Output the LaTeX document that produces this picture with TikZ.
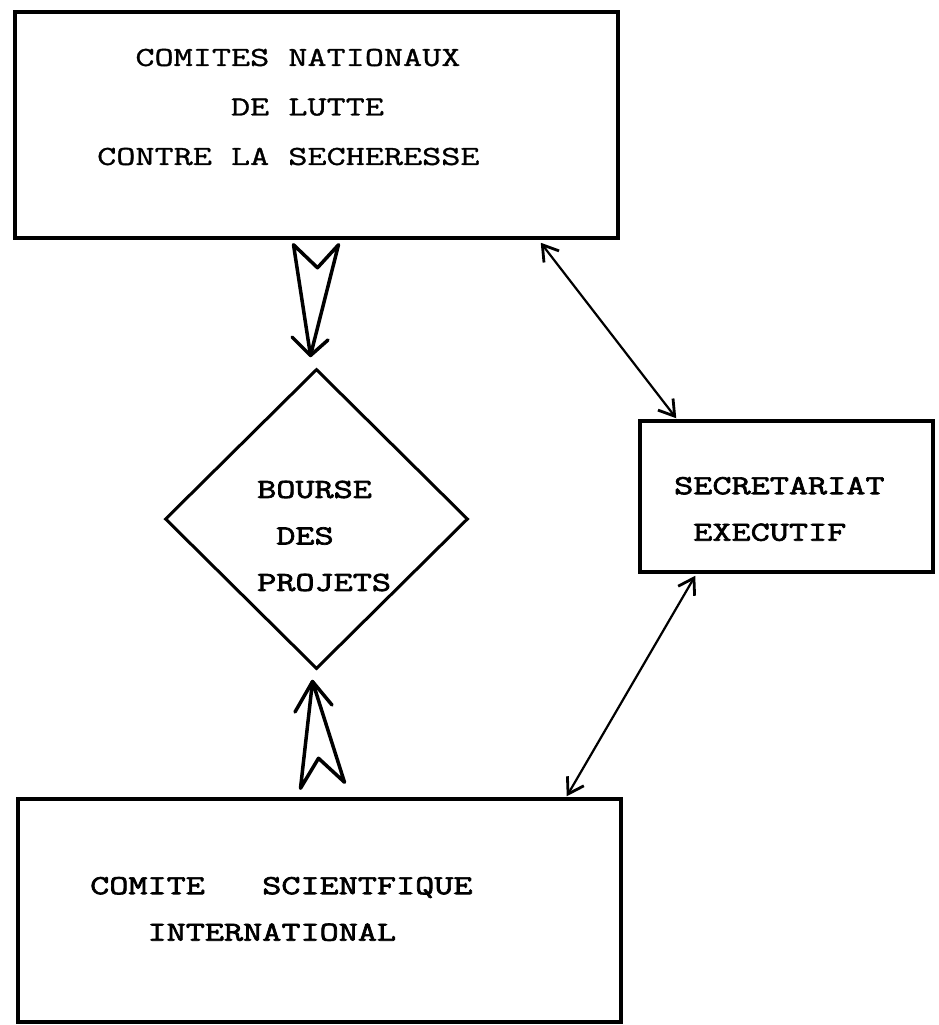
\documentclass[tikz,border=0pt]{standalone}
\usepackage{fontspec}
\newfontfamily\twr{Latin Modern Mono}[FakeStretch=1.35,FakeBold=1.2]
\newfontfamily\twb{Latin Modern Mono}[FakeStretch=1.35,FakeBold=2.6]
\usetikzlibrary{shapes.geometric,arrows.meta,calc}
\begin{document}
\begin{tikzpicture}[x=1pt,y=-1pt,
  box/.style={draw,rectangle,line width=3.5pt,inner sep=0pt},
  lbl/.style={anchor=west,inner sep=0pt,align=left},
  regtxt/.style={font=\twr\fontsize{27.5}{49.5}\selectfont},
  boldtxt/.style={font=\twb\fontsize{27.5}{46.5}\selectfont},
  hollow/.style={line width=3.5pt,line join=round,line cap=round},
  dbl/.style={line width=2.2pt,{Straight Barb[length=15pt,width=19pt,line width=2.8pt]}-{Straight Barb[length=15pt,width=19pt,line width=2.8pt]}}]
\useasboundingbox (0,0) rectangle (939,1025);
% boxes
\node[box,minimum width=603pt,minimum height=226pt] (top) at (316.5,125) {};
\node[box,minimum width=603pt,minimum height=223pt] (bot) at (319.5,910.5) {};
\node[box,minimum width=293pt,minimum height=151pt] (sec) at (786.5,496.5) {};
\node[diamond,draw,line width=3pt,inner sep=0pt,minimum width=303pt,minimum height=300pt] (dia) at (316.5,519) {};
% texts
\node[lbl,regtxt] (ttext) at (97,107) {\phantom{XX}COMITES NATIONAUX\\\phantom{XXXXXXX}DE LUTTE\\CONTRE LA SECHERESSE};
\node[lbl,boldtxt] (dtext) at (257,536) {BOURSE\\\phantom{X}DES\\PROJETS};
\node[lbl,boldtxt] (stext) at (674,509) {SECRETARIAT\\\phantom{X}EXECUTIF};
\node[lbl,boldtxt] (btext) at (90,909) {COMITE\ \ \ SCIENTFIQUE\\\phantom{XXX}INTERNATIONAL};
% hollow arrows
\coordinate (t1) at ($(dia.north)+(-6,-12)$);
\draw[hollow] ($(top.south)+(-23,5)$) -- (t1) -- ($(top.south)+(22,5)$) -- ($(top.south)+(1,28)$) -- cycle;
\draw[hollow] (292,337) -- (t1) -- (328,340);
\coordinate (t2) at ($(dia.south)+(-4,11)$);
\draw[hollow] ($(bot.north)+(-19,-9)$) -- (t2) -- ($(bot.north)+(25,-15)$) -- ($(bot.north)+(-1,-39)$) -- cycle;
\draw[hollow] (295,712) -- (t2) -- (332,705);
% double arrows
\draw[dbl] ([xshift=-79pt,yshift=-3pt]top.south east) -- ([xshift=38pt,yshift=1pt]sec.north west);
\draw[dbl] ([xshift=57pt,yshift=-2pt]sec.south west) -- ([xshift=-56pt,yshift=1pt]bot.north east);
\end{tikzpicture}
\end{document}
